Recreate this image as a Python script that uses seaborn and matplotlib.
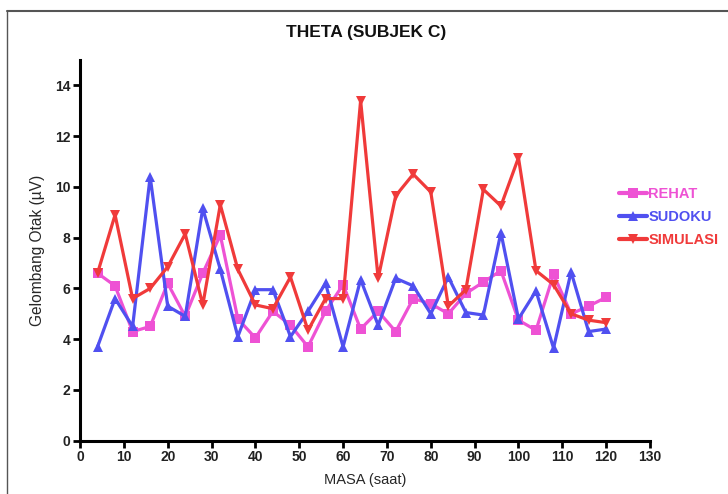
import matplotlib
matplotlib.use("Agg")
import matplotlib.pyplot as plt
from matplotlib.lines import Line2D
import seaborn as sns
import pandas as pd

# Time points (seconds) and theta-band amplitude per condition
masa = [4, 8, 12, 16, 20, 24, 28, 32, 36, 40, 44, 48, 52, 56, 60,
        64, 68, 72, 76, 80, 84, 88, 92, 96, 100, 104, 108, 112, 116, 120]
rehat = [6.6, 6.1, 4.3, 4.5, 6.2, 4.9, 6.6, 8.1, 4.8, 4.05, 5.1, 4.55, 3.7, 5.1, 6.15,
         4.4, 5.1, 4.3, 5.6, 5.4, 5.0, 5.8, 6.25, 6.7, 4.75, 4.35, 6.55, 5.0, 5.3, 5.65]
sudoku = [3.7, 5.6, 4.5, 10.4, 5.3, 4.9, 9.15, 6.75, 4.1, 5.95, 5.95, 4.1, 5.1, 6.2, 3.7,
          6.35, 4.55, 6.4, 6.1, 5.0, 6.45, 5.05, 4.95, 8.2, 4.8, 5.9, 3.65, 6.65, 4.3, 4.4]
simulasi = [6.6, 8.9, 5.6, 6.0, 6.85, 8.15, 5.35, 9.3, 6.75, 5.35, 5.2, 6.45, 4.35, 5.6, 5.6,
            13.4, 6.4, 9.65, 10.5, 9.8, 5.3, 5.95, 9.9, 9.25, 11.15, 6.7, 6.15, 5.0, 4.75, 4.65]

series = ["REHAT", "SUDOKU", "SIMULASI"]
x_ticks = list(range(0, 131, 10))
y_ticks = list(range(0, 15, 2))

colors = {"REHAT": "#EE52D4", "SUDOKU": "#5050F0", "SIMULASI": "#F03A3A"}
markers = {"REHAT": "s", "SUDOKU": "^", "SIMULASI": "v"}

df = pd.DataFrame({
    "MASA": masa * 3,
    "nilai": rehat + sudoku + simulasi,
    "keadaan": ["REHAT"] * len(masa) + ["SUDOKU"] * len(masa) + ["SIMULASI"] * len(masa),
})

sns.set_theme(style="ticks")
plt.rcParams["font.family"] = ["Liberation Sans", "DejaVu Sans"]

fig = plt.figure(figsize=(7.28, 4.94), dpi=100)
ax = fig.add_axes([80 / 728, 1 - 440.7 / 494, 570 / 728, 380.7 / 494])

sns.lineplot(data=df, x="MASA", y="nilai", hue="keadaan", style="keadaan",
             hue_order=series, style_order=series, palette=colors,
             markers=markers, dashes=False, linewidth=2.3, markersize=7,
             markeredgewidth=0, legend=False, ax=ax)

ax.set_xlim(0, 130)
ax.set_ylim(0, 15)
ax.set_xticks(x_ticks)
ax.set_yticks(y_ticks)
ax.tick_params(axis="both", direction="out", length=5, width=2, color="black",
               labelsize=10, pad=2)
for lab in ax.get_xticklabels() + ax.get_yticklabels():
    lab.set_fontweight("bold")
    lab.set_color("#222222")

for side in ("top", "right"):
    ax.spines[side].set_visible(False)
for side in ("left", "bottom"):
    ax.spines[side].set_linewidth(2.2)
    ax.spines[side].set_color("black")
ax.spines["left"].set_bounds(0, 15)

ax.set_xlabel("MASA (saat)", fontsize=10.5, labelpad=6)
ax.set_ylabel("Gelombang Otak (µV)", fontsize=11.2, labelpad=7)

fig.text(366 / 728, 1 - 32 / 494, "THETA (SUBJEK C)", ha="center", va="center",
         fontsize=12.5, fontweight="bold", color="#111111")

# Legend with coloured labels, placed to the right of the plot
handles = [Line2D([], [], color=colors[s], marker=markers[s], linewidth=3,
                  markersize=7, markeredgewidth=0) for s in series]
leg = fig.legend(handles, series, loc="upper left",
                 bbox_to_anchor=(606 / 728, 1 - 174 / 494), frameon=False,
                 handlelength=1.9, handletextpad=0.1, labelspacing=0.62,
                 prop={"size": 10.5, "weight": "bold"})
for txt, s in zip(leg.get_texts(), series):
    txt.set_color(colors[s])

# Outer frame lines along the top and left edges
fig.add_artist(Line2D([7 / 728, 1.0], [1 - 11.5 / 494, 1 - 11.5 / 494],
                      transform=fig.transFigure, color="#555555", linewidth=1.5))
fig.add_artist(Line2D([7 / 728, 7 / 728], [0.0, 1 - 11.5 / 494],
                      transform=fig.transFigure, color="#555555", linewidth=1.0))

fig.savefig("out.png", dpi=100)
